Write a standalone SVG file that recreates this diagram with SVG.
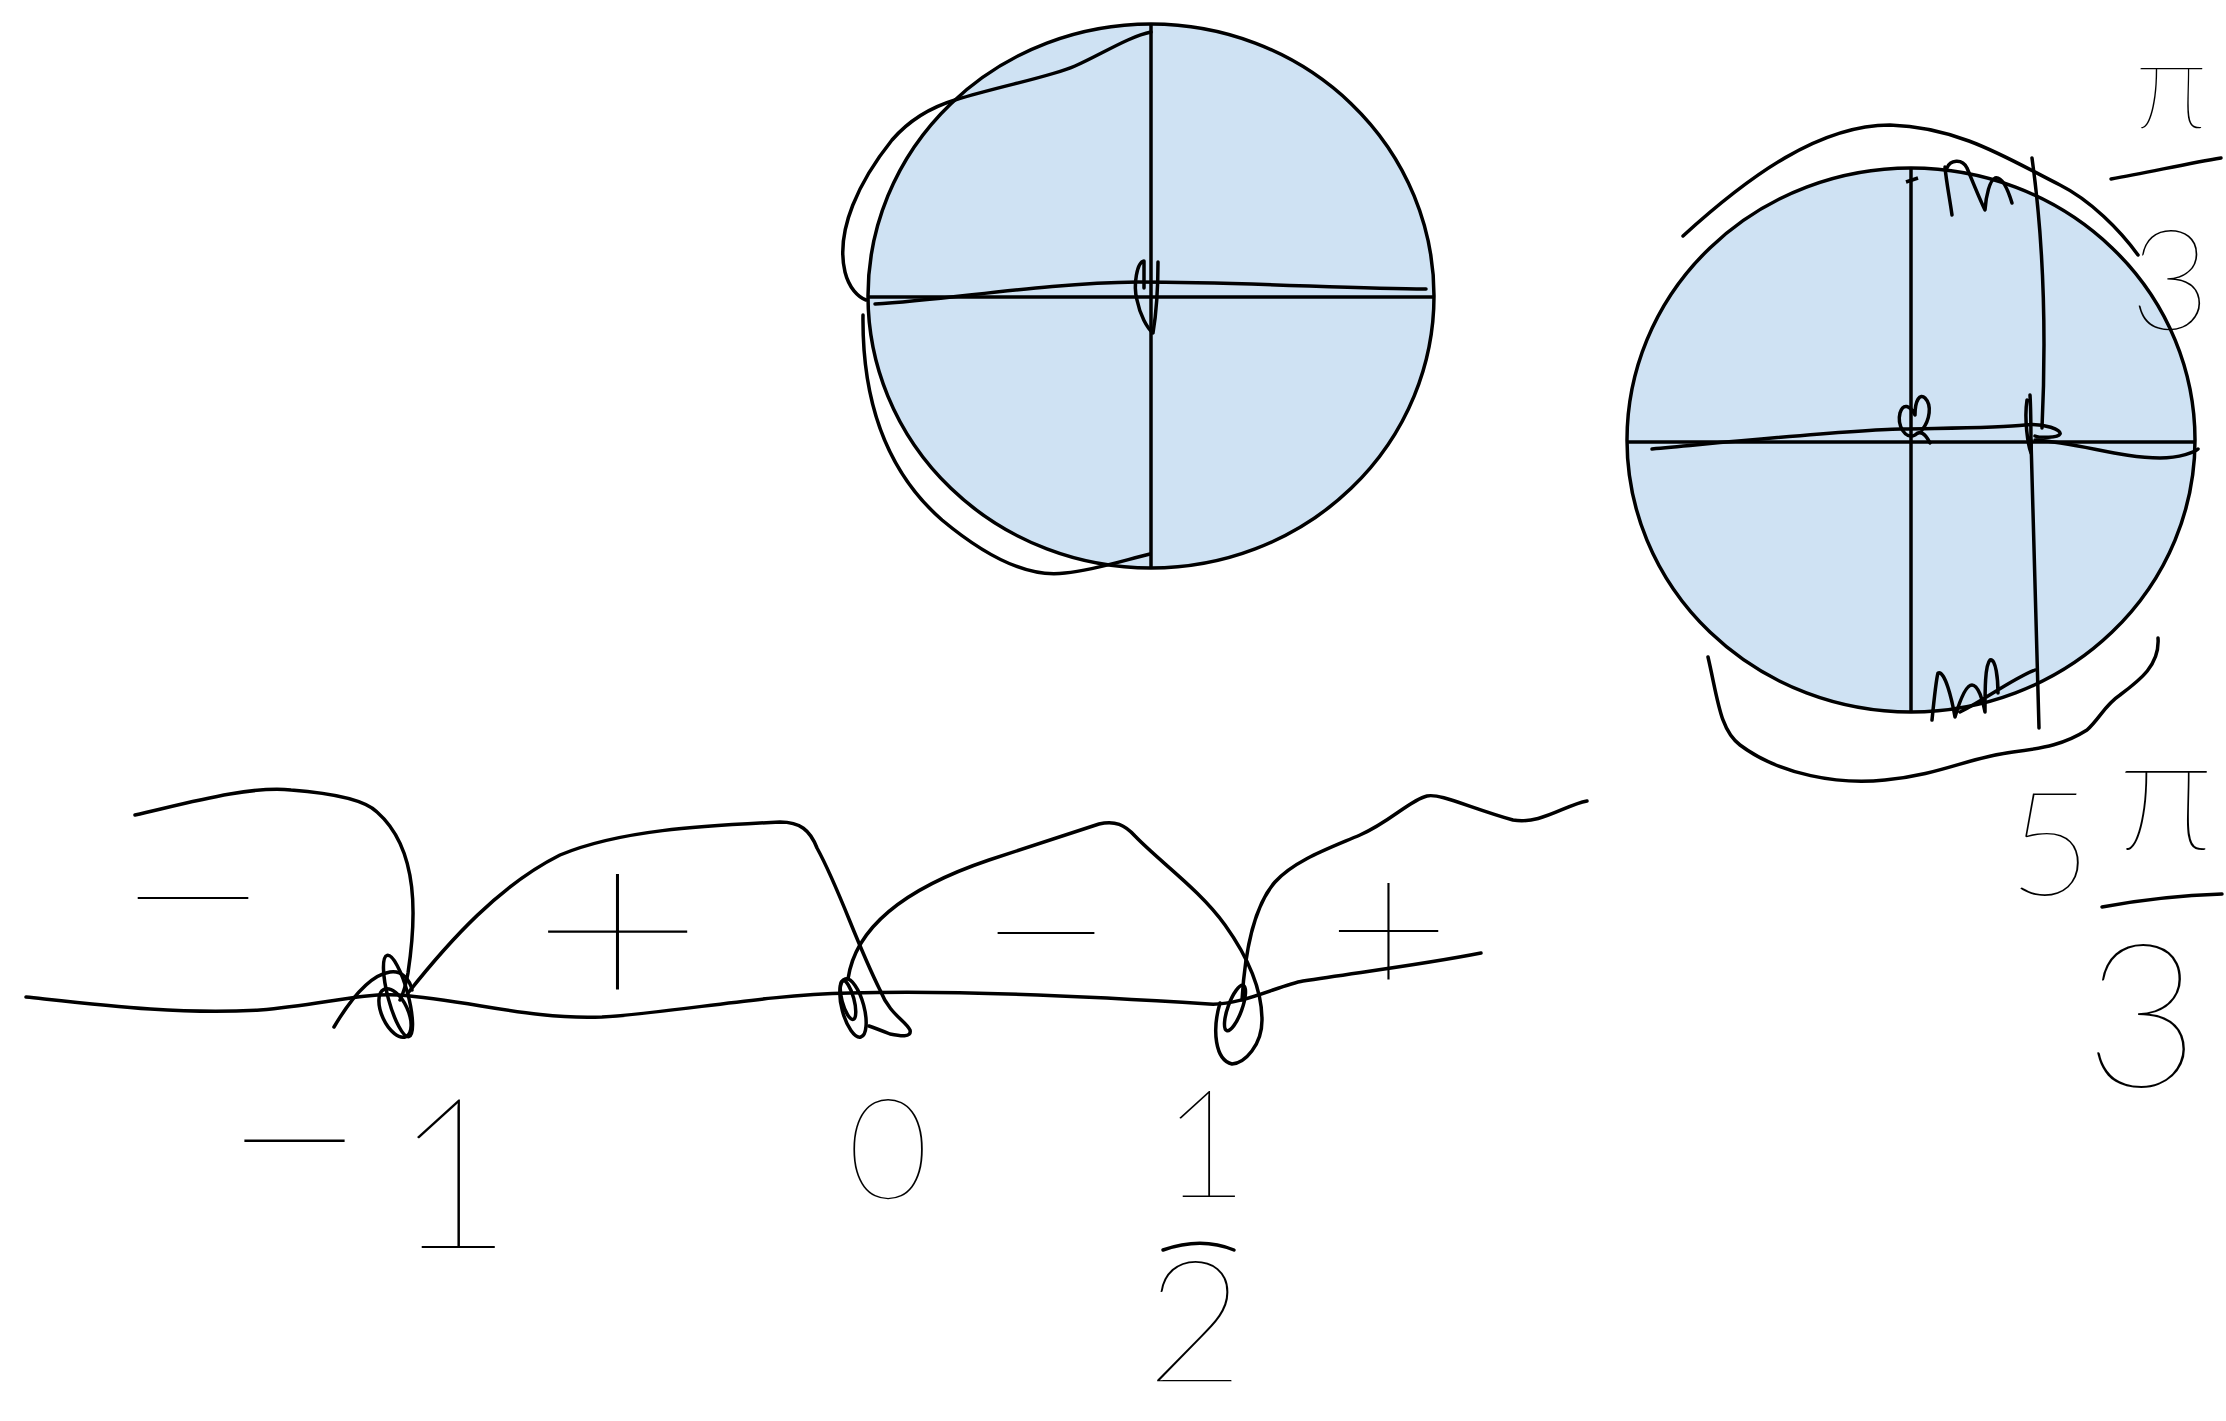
<svg xmlns="http://www.w3.org/2000/svg" width="2226" height="1421" viewBox="0 0 2226 1421">
<style>
.ink{fill:none;stroke:#000;stroke-width:3.5;stroke-linecap:round;stroke-linejoin:round}
.disc{fill:#cfe2f3;stroke:#000;stroke-width:3.5}
.ax{stroke:#000;stroke-width:3.5;fill:none}
.hw{font-family:Lato,"Noto Sans",sans-serif;font-weight:100;fill:#000}
</style>
<rect width="2226" height="1421" fill="#fff"/>

<g id="unit-circle-1">
<ellipse class="disc" cx="1151" cy="296" rx="283" ry="272"/>
<line class="ax" x1="1151" y1="24" x2="1151" y2="568"/>
<line class="ax" x1="867" y1="297" x2="1434" y2="297"/>
<path class="ink" d="M1151,32 C1130,36 1100,55 1075,66 C1050,77 1000,86 955,100 C925,109 905,125 892,140 C860,180 835,230 845,272 C849,288 858,297 866,300"/>
<path class="ink" d="M875,304 C950,300 1040,283 1138,282 C1250,282 1350,289 1426,289"/>
<path class="ink" d="M1144,288 L1144,261 C1137,262 1133,285 1137,300 C1140,315 1147,328 1153,333 C1156,315 1158,285 1158,262"/>
<path class="ink" d="M863,315 C862,400 885,470 942,520 C990,560 1030,578 1065,573 C1095,570 1125,560 1150,554"/>
</g>

<g id="unit-circle-2">
<ellipse class="disc" cx="1911" cy="440" rx="284" ry="272"/>
<line class="ax" x1="1911" y1="168" x2="1911" y2="713"/>
<line class="ax" x1="1906" y1="182" x2="1918" y2="178"/>
<line class="ax" x1="1627" y1="442" x2="2196" y2="442"/>
<path class="ink" d="M2032,158 C2042,230 2047,320 2042,428"/>
<path class="ink" d="M2031,440 L2039,728"/>
<path class="ink" d="M1652,449 C1750,440 1850,430 1901,429 C1950,428 2000,428 2025,425 C2045,423 2062,430 2060,434 C2058,438 2040,438 2035,436 M2035,440 C2080,443 2120,458 2160,458 C2180,458 2195,452 2198,449"/>
<path class="ink" d="M1930,443 C1925,433 1920,430 1915,435 C1905,440 1897,425 1900,413 C1903,403 1910,405 1915,415 C1915,400 1920,393 1925,398 C1932,405 1930,420 1922,430"/>
<path class="ink" d="M2027,400 C2024,420 2028,445 2031,453 C2031,430 2031,410 2030,395"/>
<path class="ink" d="M1683,236 C1750,175 1820,125 1890,125 C1960,127 2010,160 2060,185 C2090,200 2120,230 2138,255"/>
<path class="ink" d="M1952,215 C1950,200 1946,180 1945,167 M1947,168 C1950,160 1962,158 1967,168 C1972,180 1980,200 1985,210 C1986,195 1990,180 1995,178 C2002,176 2008,190 2012,203"/>
<path class="ink" d="M1932,720 C1934,700 1936,680 1938,673 C1945,670 1952,700 1955,717 C1960,700 1966,685 1972,685 C1978,685 1983,700 1985,712 C1985,690 1985,665 1990,660 C1996,658 1998,680 1998,693 M1960,712 C1985,700 2010,680 2035,670"/>
<path class="ink" d="M1708,657 C1718,700 1720,730 1740,745 C1780,775 1840,785 1885,780 C1940,775 1970,757 2013,752 C2045,748 2065,744 2087,730 C2100,718 2105,705 2120,695 C2140,680 2160,665 2158,638"/>
<path class="ink" d="M2111,179 C2150,172 2190,163 2221,158"/>
<path class="ink" d="M2102,907 C2150,898 2190,895 2222,894"/>
</g>

<g id="number-line">
<path class="ink" d="M26,997 C100,1005 180,1015 260,1010 C320,1005 360,993 398,995 C470,1000 530,1020 602,1017 C680,1012 760,995 850,993 C950,990 1100,997 1209,1004 C1240,1006 1280,985 1303,981 C1360,972 1420,965 1481,953"/>
<path class="ink" d="M135,815 C180,805 250,785 291,790 C330,793 365,800 377,812 C420,850 416,920 408,973 C405,990 400,1000 400,1000"/>
<ellipse class="ink" cx="398" cy="996" rx="10" ry="42" transform="rotate(-15 398 996)"/>
<ellipse class="ink" cx="395" cy="1013" rx="13" ry="26" transform="rotate(-25 395 1013)"/>
<path class="ink" d="M334,1027 C350,1000 370,975 390,972 C402,970 410,980 412,990"/>
<path class="ink" d="M408,993 C450,940 500,885 560,855 C620,830 700,826 780,822 C800,822 810,830 817,848 C840,890 855,940 880,990 C890,1015 905,1020 910,1030 C912,1038 900,1036 890,1034 C880,1030 872,1027 869,1026"/>
<ellipse class="ink" cx="853" cy="1008" rx="11" ry="30" transform="rotate(-15 853 1008)"/>
<ellipse class="ink" cx="848" cy="1000" rx="6" ry="20" transform="rotate(-15 848 1000)"/>
<path class="ink" d="M848,979 C855,930 900,890 989,860 C1040,843 1080,830 1099,824 C1115,820 1125,825 1135,836 C1160,862 1200,890 1225,925 C1250,960 1262,990 1262,1020 C1262,1045 1245,1063 1232,1064 C1215,1060 1212,1030 1220,1003"/>
<ellipse class="ink" cx="1235" cy="1008" rx="7" ry="24" transform="rotate(20 1235 1008)"/>
<path class="ink" d="M1242,1000 C1245,950 1255,905 1275,882 C1295,860 1330,848 1360,835 C1390,822 1410,800 1427,796 C1440,793 1470,808 1513,820 C1540,825 1565,805 1587,801"/>
<path class="ink" d="M1163,1250 C1180,1244 1205,1238 1234,1250"/>
</g>

<g id="labels">
<text class="hw" x="113" y="965" font-size="200" textLength="160" lengthAdjust="spacingAndGlyphs">−</text>
<text class="hw" x="530" y="1012" font-size="240" textLength="175" lengthAdjust="spacingAndGlyphs">+</text>
<text class="hw" x="976" y="1000" font-size="200" textLength="140" lengthAdjust="spacingAndGlyphs">−</text>
<text class="hw" x="1326" y="998" font-size="200" textLength="125" lengthAdjust="spacingAndGlyphs">+</text>
<text class="hw"><tspan x="222" y="1225" font-size="250">−</tspan><tspan x="392" y="1248" font-size="210">1</tspan></text>
<text class="hw" x="888" y="1199" font-size="140" text-anchor="middle">0</text>
<text class="hw" x="1205" y="1197" font-size="150" text-anchor="middle">1</text>
<text class="hw" x="1195" y="1382" font-size="170" text-anchor="middle">2</text>
<text class="hw" x="2135" y="128" font-size="125">π</text>
<text class="hw" x="2170" y="330" font-size="140" text-anchor="middle">3</text>
<text class="hw"><tspan x="2008" y="895" font-size="145">5</tspan><tspan x="2118" y="850" font-size="165">π</tspan></text>
<text class="hw" x="2142" y="1087" font-size="200" text-anchor="middle">3</text>
</g>
</svg>
